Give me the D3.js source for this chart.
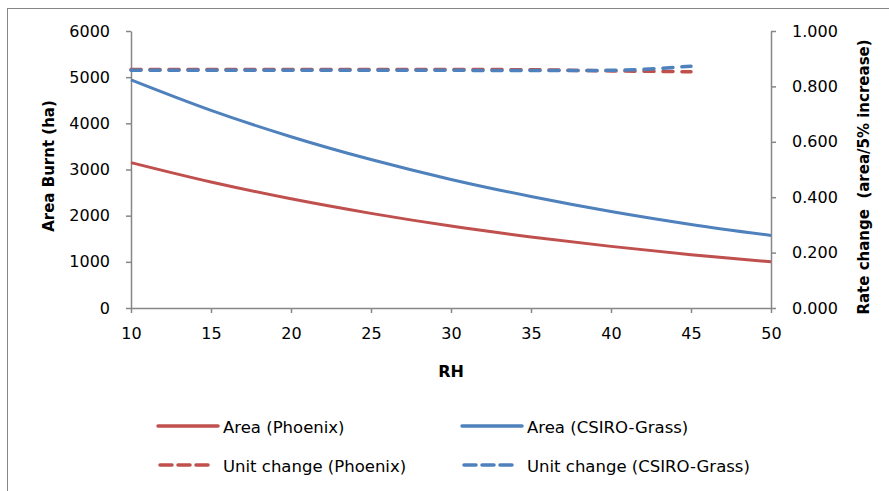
<!DOCTYPE html>
<html>
<head>
<meta charset="utf-8">
<script src="https://cdn.jsdelivr.net/npm/d3@7"></script>
<style>
  body { margin: 0; background: #fff; }
  svg text { font-family: "DejaVu Sans", sans-serif; fill: #000; }
</style>
</head>
<body>
<div id="chart"></div>
<script>
// データ
const rh = [10, 15, 20, 25, 30, 35, 40, 45, 50];
const areaPhoenix = [3150, 2730, 2365, 2050, 1775, 1540, 1335, 1155, 1000];
const areaCsiro = [4940, 4280, 3710, 3215, 2785, 2415, 2090, 1810, 1570];
const rhUnit = [10, 15, 20, 25, 30, 35, 40, 45];
const unitPhoenix = [0.861, 0.861, 0.861, 0.861, 0.861, 0.860, 0.856, 0.853];
const unitCsiro = [0.858, 0.858, 0.858, 0.858, 0.858, 0.857, 0.858, 0.873];
const leftTicks = [0, 1000, 2000, 3000, 4000, 5000, 6000];
const rightTicks = [0, 0.2, 0.4, 0.6, 0.8, 1.0];
const xTicks = [10, 15, 20, 25, 30, 35, 40, 45, 50];

const width = 889, height = 491;
const red = '#C0504D', blue = '#4F81BD', axisColor = '#868686';
const font = '"DejaVu Sans", sans-serif';

const svg = d3.select('#chart').append('svg')
    .attr('width', width)
    .attr('height', height);

// 外枠
svg.append('rect')
    .attr('x', 7.5).attr('y', 8.5)
    .attr('width', 900).attr('height', 500)
    .attr('fill', 'none')
    .attr('stroke', '#868686')
    .attr('stroke-width', 1);

// スケール
const x = d3.scaleLinear().domain([10, 50]).range([131, 771]);
const yL = d3.scaleLinear().domain([0, 6000]).range([308, 31]);
const yR = d3.scaleLinear().domain([0, 1]).range([308, 31]);

// 軸
const xAxis = svg.append('g')
    .attr('transform', 'translate(0,308)')
    .call(d3.axisBottom(x).tickValues(xTicks).tickSize(5).tickSizeOuter(0));
const leftAxis = svg.append('g')
    .attr('transform', 'translate(131,0)')
    .call(d3.axisLeft(yL).tickValues(leftTicks).tickFormat(d3.format('d')).tickSize(5).tickSizeOuter(0));
const rightAxis = svg.append('g')
    .attr('transform', 'translate(771,0)')
    .call(d3.axisRight(yR).tickValues(rightTicks).tickFormat(d3.format('.3f')).tickSize(5).tickSizeOuter(0));

[xAxis, leftAxis, rightAxis].forEach(g => {
    g.select('.domain').attr('stroke', axisColor).attr('stroke-width', 1.5);
    g.selectAll('.tick line').attr('stroke', axisColor).attr('stroke-width', 1.5);
    g.selectAll('.tick text')
        .attr('font-size', '16px')
        .attr('font-family', font)
        .attr('fill', '#000');
});
xAxis.selectAll('.tick text').attr('y', 25).attr('dy', '0.35em');
leftAxis.selectAll('.tick text').attr('x', -21);
rightAxis.selectAll('.tick text').attr('x', 21);

// 軸タイトル
svg.append('text')
    .attr('x', 451).attr('y', 377)
    .attr('text-anchor', 'middle')
    .attr('font-size', '16px')
    .attr('font-weight', 'bold')
    .text('RH');
svg.append('text')
    .attr('transform', 'translate(54,166) rotate(-90)')
    .attr('text-anchor', 'middle')
    .attr('font-size', '15px')
    .attr('font-weight', 'bold')
    .text('Area Burnt (ha)');
svg.append('text')
    .attr('transform', 'translate(869,177) rotate(-90)')
    .attr('text-anchor', 'middle')
    .attr('font-size', '15px')
    .attr('font-weight', 'bold')
    .attr('xml:space', 'preserve')
    .text('Rate change  (area/5% increase)');

// 線
const lineL = d3.line().x(d => x(d[0])).y(d => yL(d[1])).curve(d3.curveMonotoneX);
const lineR = d3.line().x(d => x(d[0])).y(d => yR(d[1])).curve(d3.curveMonotoneX);

svg.append('path')
    .datum(rh.map((r, i) => [r, areaPhoenix[i]]))
    .attr('d', lineL)
    .attr('fill', 'none').attr('stroke', red).attr('stroke-width', 3);
svg.append('path')
    .datum(rh.map((r, i) => [r, areaCsiro[i]]))
    .attr('d', lineL)
    .attr('fill', 'none').attr('stroke', blue).attr('stroke-width', 3);
svg.append('path')
    .datum(rhUnit.map((r, i) => [r, unitPhoenix[i]]))
    .attr('d', lineR)
    .attr('fill', 'none').attr('stroke', red).attr('stroke-width', 3.5)
    .attr('stroke-dasharray', '10,9').attr('stroke-linecap', 'round');
svg.append('path')
    .datum(rhUnit.map((r, i) => [r, unitCsiro[i]]))
    .attr('d', lineR)
    .attr('fill', 'none').attr('stroke', blue).attr('stroke-width', 3.5)
    .attr('stroke-dasharray', '10,9').attr('stroke-linecap', 'round');

// 凡例
const legendItems = [
    { label: 'Area (Phoenix)', color: red, dash: null, x: 158, y: 426 },
    { label: 'Area (CSIRO-Grass)', color: blue, dash: null, x: 462, y: 426 },
    { label: 'Unit change (Phoenix)', color: red, dash: '12,6', x: 158, y: 465 },
    { label: 'Unit change (CSIRO-Grass)', color: blue, dash: '12,6', x: 462, y: 465 }
];
const legend = svg.append('g').selectAll('g')
    .data(legendItems)
    .enter()
    .append('g');
legend.append('line')
    .attr('x1', d => d.dash ? d.x + 2 : d.x).attr('x2', d => d.dash ? d.x + 54 : d.x + 60)
    .attr('y1', d => d.y).attr('y2', d => d.y)
    .attr('stroke', d => d.color)
    .attr('stroke-width', 3.5)
    .attr('stroke-linecap', 'round')
    .attr('stroke-dasharray', d => d.dash);
legend.append('text')
    .attr('x', d => d.x + 65)
    .attr('y', d => d.y + 7)
    .attr('font-size', '16.5px')
    .text(d => d.label);
</script>
</body>
</html>
